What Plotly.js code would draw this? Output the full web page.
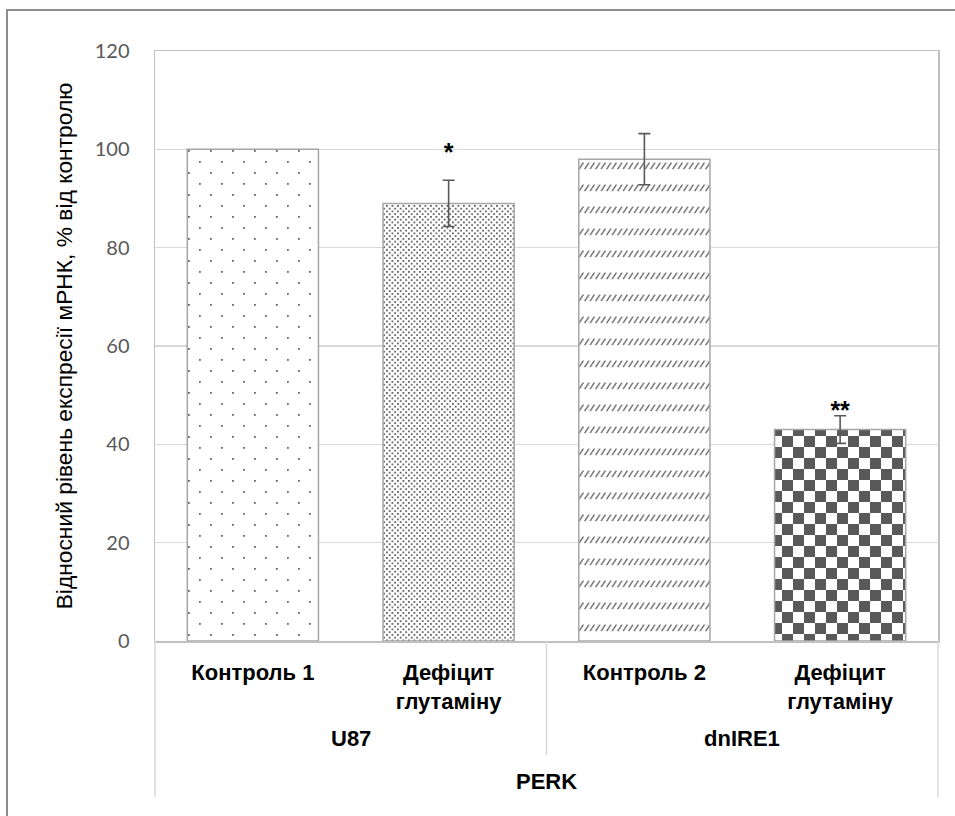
<!DOCTYPE html>
<html>
<head>
<meta charset="utf-8">
<script src="https://cdn.plot.ly/plotly-3.0.1.min.js"></script>
<style>
  html, body { margin: 0; padding: 0; background: #fff; }
  #chart { width: 955px; height: 816px; }
</style>
</head>
<body>
<div id="chart"></div>
<script>
// Relative PERK mRNA expression, % of control
const cellLines = ['U87', 'U87', 'dnIRE1', 'dnIRE1'];
const conditions = ['Контроль 1', 'Дефіцит<br>глутаміну', 'Контроль 2', 'Дефіцит<br>глутаміну'];
const expression = [100, 89, 98, 43];
const errors = [null, 4.7, 5.2, 2.8];
const significance = ['', '*', '', '**'];
const significanceY = [null, 99, null, 46.5];
const groups = ['U87', 'dnIRE1'];
const yTicks = [0, 20, 40, 60, 80, 100, 120];
const geneLabel = 'PERK';
const yTitle = 'Відносний рівень експресії мРНК, % від контролю';

// one unique category key per bar (the same condition name repeats across cell lines)
const keys = cellLines.map((c, i) => c + ' / ' + conditions[i]);

const labelFont = '"Liberation Sans", Arial, sans-serif';
const bodyFont = 'Lato, "Open Sans", sans-serif';
const labelSize = 22;

const bars = {
  type: 'bar',
  x: keys,
  y: expression,
  marker: {
    color: '#ffffff',
    line: { color: '#a6a6a6', width: 1.5 },
    pattern: { shape: ['.', '.', '/', '+'], fgcolor: '#595959', bgcolor: '#ffffff', size: 8, solidity: 0.2 }
  },
  hoverinfo: 'none'
};

// error bars only where a deviation was measured
const withErr = errors.map((e, i) => i).filter(i => errors[i] !== null);
const errorBars = {
  type: 'scatter',
  mode: 'markers',
  x: withErr.map(i => keys[i]),
  y: withErr.map(i => expression[i]),
  marker: { size: 1, opacity: 0 },
  error_y: { type: 'data', array: withErr.map(i => errors[i]), visible: true, color: '#595959', thickness: 1.6, width: 6 },
  hoverinfo: 'none'
};

const stars = {
  type: 'scatter',
  mode: 'text',
  x: keys,
  y: significanceY,
  text: significance,
  textposition: 'middle center',
  textfont: { family: labelFont, size: 25, color: '#000', weight: 'bold' },
  hoverinfo: 'none',
  cliponaxis: false
};

// vertical positions below the plot area, in paper units (plot area is 590 px tall)
const plotH = 590;
const below = px => -px / plotH;

const boldLabel = { family: labelFont, size: labelSize, color: '#000', weight: 'bold' };
const annotations = [
  ...groups.map((g, gi) => ({
    text: g, xref: 'x', x: gi * 2 + 0.5, yref: 'paper', y: below(97), yanchor: 'middle',
    showarrow: false, font: boldLabel
  })),
  {
    text: geneLabel, xref: 'paper', x: 0.5, yref: 'paper', y: below(141), yanchor: 'middle',
    showarrow: false, font: boldLabel
  }
];

const sepColor = '#d9d9d9';
const shapes = [
  // chart frame
  { type: 'rect', xref: 'paper', yref: 'paper', x0: -0.189, x1: 1.03, y0: -0.31, y1: 1.0695,
    line: { color: '#8c8c8c', width: 2 }, fillcolor: 'rgba(0,0,0,0)', layer: 'below' },
  // category separators
  { type: 'line', xref: 'paper', yref: 'paper', x0: 0, x1: 0, y0: 0, y1: below(156), line: { color: sepColor, width: 1.5 } },
  { type: 'line', xref: 'paper', yref: 'paper', x0: 1, x1: 1, y0: 0, y1: below(156), line: { color: sepColor, width: 1.5 } },
  { type: 'line', xref: 'x', yref: 'paper', x0: 1.5, x1: 1.5, y0: 0, y1: below(114), line: { color: sepColor, width: 1.5 } }
];

const layout = {
  width: 955,
  height: 816,
  margin: { l: 155, r: 17, t: 51, b: 175 },
  paper_bgcolor: '#ffffff',
  plot_bgcolor: '#ffffff',
  showlegend: false,
  bargap: 0.33,
  font: { family: bodyFont, color: '#595959' },
  xaxis: {
    type: 'category',
    tickvals: keys,
    ticktext: conditions,
    showline: true,
    linecolor: '#c0c0c0',
    linewidth: 1.5,
    mirror: true,
    ticks: '',
    ticklabelstandoff: 11,
    tickfont: boldLabel
  },
  yaxis: {
    range: [0, 120],
    tickvals: yTicks,
    showgrid: true,
    gridcolor: '#d9d9d9',
    gridwidth: 1.2,
    zeroline: false,
    showline: true,
    linecolor: '#c0c0c0',
    linewidth: 1.5,
    mirror: true,
    ticks: '',
    ticklabelstandoff: 20,
    tickfont: { family: bodyFont, size: 20, color: '#595959' },
    title: { text: yTitle, font: { family: labelFont, size: 22.8, color: '#000' }, standoff: 15 }
  },
  annotations: annotations,
  shapes: shapes
};

// Bitmap-like fills in the style of classic office chart patterns
function addTextures(gd) {
  const ns = 'http://www.w3.org/2000/svg';
  const svg = gd.querySelector('svg.main-svg');
  let defs = svg.querySelector('defs');
  if (!defs) { defs = document.createElementNS(ns, 'defs'); svg.insertBefore(defs, svg.firstChild); }

  function pattern(id, w, h, children) {
    const p = document.createElementNS(ns, 'pattern');
    p.setAttribute('id', id);
    p.setAttribute('patternUnits', 'userSpaceOnUse');
    p.setAttribute('width', w);
    p.setAttribute('height', h);
    const bg = document.createElementNS(ns, 'rect');
    bg.setAttribute('width', w); bg.setAttribute('height', h); bg.setAttribute('fill', '#ffffff');
    p.appendChild(bg);
    children.forEach(c => {
      const el = document.createElementNS(ns, c.tag);
      Object.keys(c.attrs).forEach(k => el.setAttribute(k, c.attrs[k]));
      p.appendChild(el);
    });
    defs.appendChild(p);
    return id;
  }
  const rect = (x, y, w, h, fill) => ({ tag: 'rect', attrs: { x, y, width: w, height: h, fill } });

  const ids = [
    pattern('tex-sparse-dots', 22, 22, [rect(0, 0, 1.8, 1.8, '#666'), rect(11, 11, 1.8, 1.8, '#666')]),
    pattern('tex-dense-dots', 5.5, 5.5, [rect(0, 0, 1.8, 1.8, '#666'), rect(2.75, 2.75, 1.8, 1.8, '#666')]),
    pattern('tex-dash-diag', 5.5, 22, [{ tag: 'line', attrs: { x1: 0.6, y1: 8.2, x2: 5, y2: 1.6, stroke: '#5e5e5e', 'stroke-width': 1.25 } }]),
    pattern('tex-check', 22, 22, [rect(0, 0, 11, 11, '#595959'), rect(11, 11, 11, 11, '#595959')])
  ];

  const paths = gd.querySelectorAll('.barlayer .trace .point path');
  paths.forEach((p, i) => { if (ids[i]) p.style.fill = 'url(#' + ids[i] + ')'; });
}

const gd = document.getElementById('chart');
Plotly.newPlot(gd, [bars, errorBars, stars], layout, { staticPlot: true, displayModeBar: false })
  .then(addTextures);
</script>
</body>
</html>
